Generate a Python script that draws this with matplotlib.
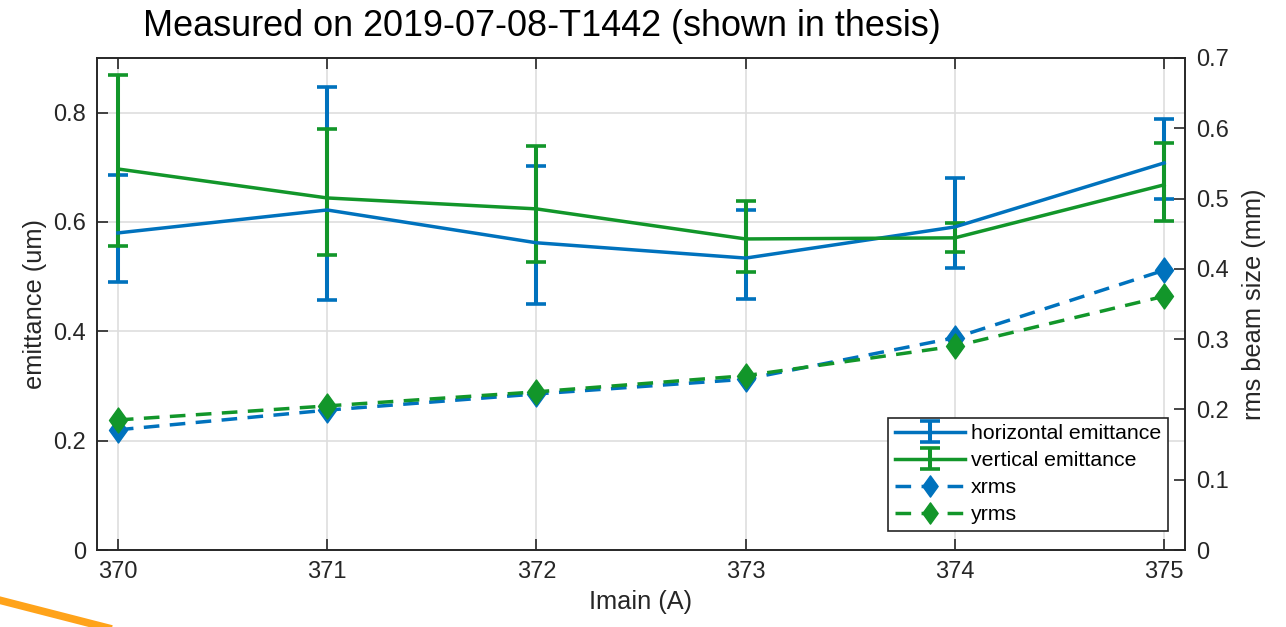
import matplotlib.pyplot as plt
from matplotlib.path import Path
from matplotlib.lines import Line2D
import numpy as np

plt.rcParams['font.family'] = ['Liberation Sans', 'DejaVu Sans']

# magnet current scan
imain = [370, 371, 372, 373, 374, 375]

# emittance (um) with lower / upper error
h_emit = [0.580, 0.622, 0.562, 0.534, 0.591, 0.708]
h_lo = [0.090, 0.165, 0.112, 0.075, 0.075, 0.066]
h_hi = [0.106, 0.225, 0.141, 0.088, 0.090, 0.081]
v_emit = [0.697, 0.644, 0.624, 0.569, 0.571, 0.668]
v_lo = [0.141, 0.104, 0.097, 0.060, 0.026, 0.066]
v_hi = [0.172, 0.126, 0.115, 0.070, 0.027, 0.077]

# rms beam size (mm)
xrms = [0.171, 0.199, 0.222, 0.243, 0.302, 0.398]
yrms = [0.185, 0.205, 0.225, 0.248, 0.290, 0.361]

blue = '#0072BD'
green = '#12962A'
dark = '#262626'

diamond = Path([(0, 1), (0.72, 0), (0, -1), (-0.72, 0), (0, 1)],
               [Path.MOVETO, Path.LINETO, Path.LINETO, Path.LINETO, Path.CLOSEPOLY])

fig = plt.figure(figsize=(12.86, 6.27), dpi=100)
ax = fig.add_axes([0.0754, 0.1228, 0.8461, 0.7847])
ax2 = ax.twinx()

eb1 = ax.errorbar(imain, h_emit, yerr=[h_lo, h_hi], color=blue, lw=2.5,
                  elinewidth=2.9, capsize=7, capthick=2.6,
                  label='horizontal emittance')
eb2 = ax.errorbar(imain, v_emit, yerr=[v_lo, v_hi], color=green, lw=2.5,
                  elinewidth=2.9, capsize=7, capthick=2.6,
                  label='vertical emittance')

l1, = ax2.plot(imain, xrms, color=blue, lw=2.5, dashes=(4.5, 3),
               marker=diamond, ms=18, mfc=blue, mec=blue, label='xrms')
l2, = ax2.plot(imain, yrms, color=green, lw=2.5, dashes=(4.5, 3),
               marker=diamond, ms=18, mfc=green, mec=green, label='yrms')

ax.set_xlim(369.9, 375.1)
ax.set_ylim(0, 0.9)
ax2.set_ylim(0, 0.7)
ax.set_xticks(imain)
ax.set_yticks([0, 0.2, 0.4, 0.6, 0.8])
ax2.set_yticks(np.arange(0, 0.71, 0.1))
ax.set_yticklabels(['0', '0.2', '0.4', '0.6', '0.8'])
ax2.set_yticklabels(['0', '0.1', '0.2', '0.3', '0.4', '0.5', '0.6', '0.7'])

ax.grid(True, color='#dedede', lw=1.2)
ax.set_axisbelow(True)

ax.tick_params(axis='both', direction='in', length=8, width=1.2,
               labelsize=17, colors=dark, top=True, right=False, pad=8)
ax2.tick_params(axis='y', direction='in', length=8, width=1.2,
                labelsize=17, colors=dark, pad=8)
for a in (ax, ax2):
    for s in a.spines.values():
        s.set_color(dark)
        s.set_linewidth(1.2)

ax.set_xlabel('Imain (A)', fontsize=18.3, color=dark, labelpad=5)
ax.set_ylabel('emittance (um)', fontsize=18.3, color=dark, labelpad=4)
ax2.set_ylabel('rms beam size (mm)', fontsize=18.3, color=dark, labelpad=9)

leg = ax2.legend([eb1, eb2, l1, l2],
                 ['horizontal emittance', 'vertical emittance', 'xrms', 'yrms'],
                 loc='lower right', bbox_to_anchor=(0.984, 0.039),
                 borderaxespad=0, fontsize=15.3, fancybox=False, framealpha=1,
                 edgecolor=dark, handlelength=3.3, handletextpad=0.3,
                 labelspacing=0.38, borderpad=0.3, markerscale=0.85)
leg.get_frame().set_linewidth(1.2)

fig.text(143 / 1286, 1 - 26 / 627, 'Measured on 2019-07-08-T1442 (shown in thesis)',
         fontsize=25.9, color='black', va='center', ha='left')

# orange stroke at the lower left corner
fig.add_artist(Line2D([-0.01, 0.1], [1 - 597 / 627, -0.01], color='#FFA31A',
                      lw=5.5, transform=fig.transFigure, clip_on=False))

fig.savefig('out.png', dpi=100)
